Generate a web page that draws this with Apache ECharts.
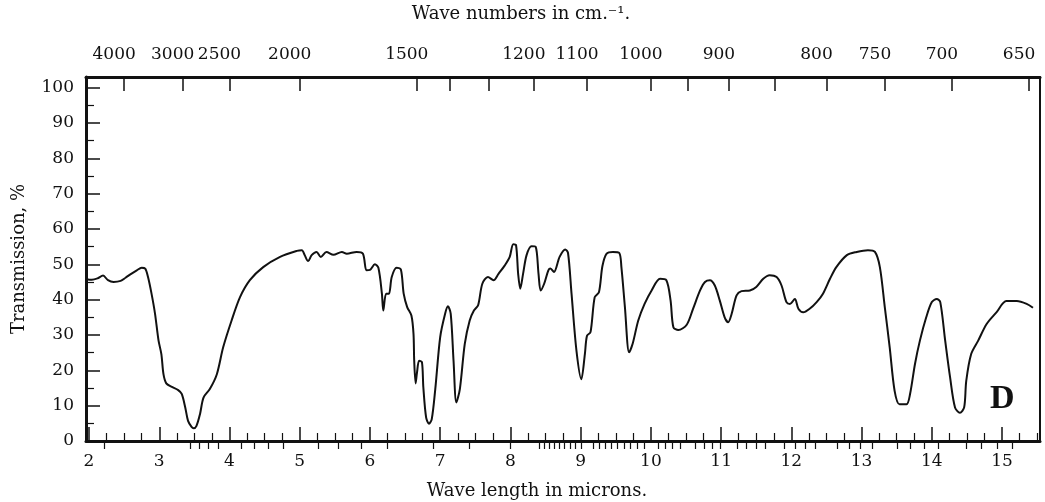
<!DOCTYPE html>
<html><head><meta charset="utf-8">
<script src="https://cdn.jsdelivr.net/npm/echarts@6/dist/echarts.min.js"></script>
<style>html,body{margin:0;padding:0;background:#fff}#c{width:1045px;height:502px}</style>
</head><body><div id="c"></div>
<script>
// Wavelength (microns) and % transmission
const wavelength = [1.96,2.04,2.12,2.20,2.27,2.35,2.45,2.52,2.60,2.68,2.75,2.80,2.84,2.89,2.94,2.99,3.03,3.06,3.10,3.18,3.27,3.32,3.37,3.41,3.46,3.49,3.53,3.58,3.63,3.72,3.82,3.91,4.03,4.15,4.29,4.48,4.72,4.96,5.03,5.07,5.12,5.17,5.24,5.30,5.38,5.48,5.60,5.67,5.81,5.90,5.95,6.00,6.07,6.12,6.17,6.19,6.23,6.27,6.31,6.38,6.44,6.48,6.53,6.59,6.62,6.63,6.65,6.67,6.70,6.74,6.76,6.80,6.84,6.88,6.93,7.00,7.07,7.11,7.15,7.19,7.23,7.28,7.35,7.42,7.48,7.54,7.60,7.68,7.76,7.83,7.92,7.99,8.04,8.08,8.11,8.14,8.18,8.23,8.30,8.36,8.40,8.43,8.48,8.54,8.57,8.62,8.70,8.78,8.82,8.87,8.94,9.01,9.06,9.09,9.14,9.20,9.26,9.31,9.37,9.46,9.55,9.58,9.63,9.69,9.74,9.82,9.91,10.01,10.13,10.22,10.28,10.32,10.39,10.51,10.60,10.70,10.77,10.84,10.91,10.98,11.05,11.10,11.15,11.22,11.29,11.41,11.50,11.60,11.69,11.79,11.86,11.93,11.98,12.05,12.10,12.17,12.26,12.36,12.45,12.55,12.64,12.79,12.93,13.09,13.19,13.26,13.33,13.40,13.47,13.54,13.64,13.69,13.76,13.83,13.92,14.00,14.07,14.12,14.19,14.26,14.33,14.40,14.46,14.49,14.56,14.66,14.78,14.92,15.06,15.21,15.35,15.44];
const transmission = [45.8,45.6,46.0,46.8,45.5,45.0,45.3,46.2,47.3,48.3,49.0,48.8,46.4,41.7,36.0,28.4,24.6,18.9,16.3,15.3,14.4,13.3,9.5,5.7,4.0,3.6,4.3,7.6,12.3,14.7,18.9,26.5,34.1,40.7,45.5,49.2,52.1,53.8,54.0,52.6,50.9,52.6,53.5,52.1,53.5,52.7,53.5,53.0,53.5,53.0,48.3,48.4,50.0,49.0,41.7,36.9,41.7,41.7,46.4,49.0,48.5,41.7,37.9,35.5,30.3,22.7,16.3,19.4,22.7,22.3,15.2,6.6,4.9,6.2,14.7,29.4,36.0,38.1,36.0,22.7,10.9,14.7,27.5,34.1,36.9,38.4,44.5,46.4,45.5,47.3,49.7,52.1,55.7,55.4,47.3,43.1,47.3,52.6,55.1,54.9,47.3,42.6,44.5,48.3,48.8,47.8,52.1,54.2,53.2,41.7,25.6,17.5,24.6,29.8,30.8,40.7,42.1,49.5,53.0,53.5,53.2,49.2,37.9,25.1,27.5,34.1,38.8,42.6,45.9,45.5,39.8,32.2,31.4,32.9,37.4,42.6,45.0,45.5,44.0,39.8,35.0,33.6,36.0,41.2,42.4,42.6,43.6,45.9,46.9,46.4,44.0,39.3,38.8,40.2,37.4,36.4,37.4,39.3,41.7,45.9,49.2,52.6,53.5,54.0,53.5,49.2,37.9,26.5,14.2,10.4,10.4,13.3,21.8,28.4,35.0,39.3,40.2,39.3,28.4,18.0,9.5,8.0,9.5,17.0,24.6,28.4,33.1,36.4,39.6,39.6,38.8,37.7];

// Axis ticks / labels
const micronLabels = [2,3,4,5,6,7,8,9,10,11,12,13,14,15];
const transmissionLabels = [0,10,20,30,40,50,60,70,80,90,100];
const transmissionMinor = [5,15,25,35,45,55,65,75,85,95];
const waveNumberLabels = [4000,3000,2500,2000,1500,1200,1100,1000,900,800,750,700,650];
const waveNumberMajor = [4000,3000,2500,2000,1500,1400,1300,1200,1100,1000,950,900,850,800,750,700,650];
const waveNumberMinorCoarse = [4500,2900,2800,2700,2600,2400,2300,2200,2100,1900,1800,1700,1600,1450,1350,1250];

const waveNumberMinor = waveNumberMinorCoarse.slice();
for (let n = 1190; n >= 660; n -= 10) { if (waveNumberMajor.indexOf(n) < 0) waveNumberMinor.push(n); }
const micronMinor = [];
for (let k = 9; k <= 62; k++) { const v = k / 4; if (v % 1 !== 0 && v <= 15.5) micronMinor.push(v); }

const toMicron = n => 10000 / n;
const XMIN = 1.957, XMAX = 15.54;
const SERIF = '"DejaVu Serif", serif';
const INK = '#111';

const chart = echarts.init(document.getElementById('c'), null, {renderer: 'canvas'});
const base = {type: 'value', min: XMIN, max: XMAX, splitLine: {show: false}};
chart.setOption({
  backgroundColor: '#fff',
  animation: false,
  grid: {left: 86, right: 5, top: 77, bottom: 61, containLabel: false, outerBoundsMode: 'none'},
  xAxis: [
    Object.assign({}, base, {
      position: 'bottom',
      axisLine: {show: true, onZero: false, lineStyle: {color: INK, width: 3}},
      axisTick: {show: true, inside: true, length: 14, lineStyle: {color: INK, width: 1.5}, customValues: micronLabels},
      axisLabel: {show: true, customValues: micronLabels, margin: 12, color: INK, fontFamily: SERIF, fontSize: 17},
      name: 'Wave length in microns.', nameLocation: 'middle', nameGap: 41,
      nameTextStyle: {color: INK, fontFamily: SERIF, fontSize: 18, padding: [0, 52, 0, 0]}
    }),
    Object.assign({}, base, {
      position: 'bottom',
      axisLine: {show: false},
      axisTick: {show: true, inside: true, length: 8, lineStyle: {color: INK, width: 1.2}, customValues: micronMinor},
      axisLabel: {show: false}
    }),
    Object.assign({}, base, {
      position: 'top',
      axisLine: {show: true, onZero: false, lineStyle: {color: INK, width: 3}},
      axisTick: {show: true, inside: true, length: 14, lineStyle: {color: INK, width: 1.5}, customValues: waveNumberMajor.map(toMicron)},
      axisLabel: {show: true, customValues: waveNumberLabels.map(toMicron), margin: 14, color: INK, fontFamily: SERIF, fontSize: 17,
                  padding: [0, 20, 0, 0],
                  formatter: v => String(Math.round(10000 / v))},
      name: 'Wave numbers in cm.\u207B\u00B9.', nameLocation: 'middle', nameGap: 54,
      nameTextStyle: {color: INK, fontFamily: SERIF, fontSize: 18, padding: [0, 84, 0, 0]}
    }),
    Object.assign({}, base, {
      position: 'top',
      axisLine: {show: false},
      axisTick: {show: true, inside: true, length: 8, lineStyle: {color: INK, width: 1.2}, customValues: waveNumberMinor.map(toMicron)},
      axisLabel: {show: false}
    })
  ],
  yAxis: [
    {
      type: 'value', min: 0, max: 103, position: 'left', splitLine: {show: false},
      axisLine: {show: true, onZero: false, lineStyle: {color: INK, width: 3}},
      axisTick: {show: true, inside: true, length: 14, lineStyle: {color: INK, width: 1.5}, customValues: transmissionLabels},
      axisLabel: {show: true, customValues: transmissionLabels, margin: 12, color: INK, fontFamily: SERIF, fontSize: 17,
                  padding: [0, 0, 6, 0]},
      name: 'Transmission, %', nameLocation: 'middle', nameGap: 58,
      nameTextStyle: {color: INK, fontFamily: SERIF, fontSize: 18}
    },
    {
      type: 'value', min: 0, max: 103, position: 'left', splitLine: {show: false},
      axisLine: {show: false},
      axisTick: {show: true, inside: true, length: 8, lineStyle: {color: INK, width: 1.2}, customValues: transmissionMinor},
      axisLabel: {show: false}
    },
    {
      type: 'value', min: 0, max: 103, position: 'right', splitLine: {show: false},
      axisLine: {show: true, onZero: false, lineStyle: {color: INK, width: 2}},
      axisTick: {show: false}, axisLabel: {show: false}
    }
  ],
  graphic: [{
    type: 'text', left: 990, top: 382,
    style: {text: 'D', font: 'bold 34px "Liberation Serif", serif', fill: INK}
  }],
  series: [{
    type: 'line',
    xAxisIndex: 0, yAxisIndex: 0,
    data: wavelength.map((w, i) => [w, transmission[i]]),
    showSymbol: false, smooth: 0.3,
    lineStyle: {color: INK, width: 2},
    silent: true
  }]
});
</script>
</body></html>
